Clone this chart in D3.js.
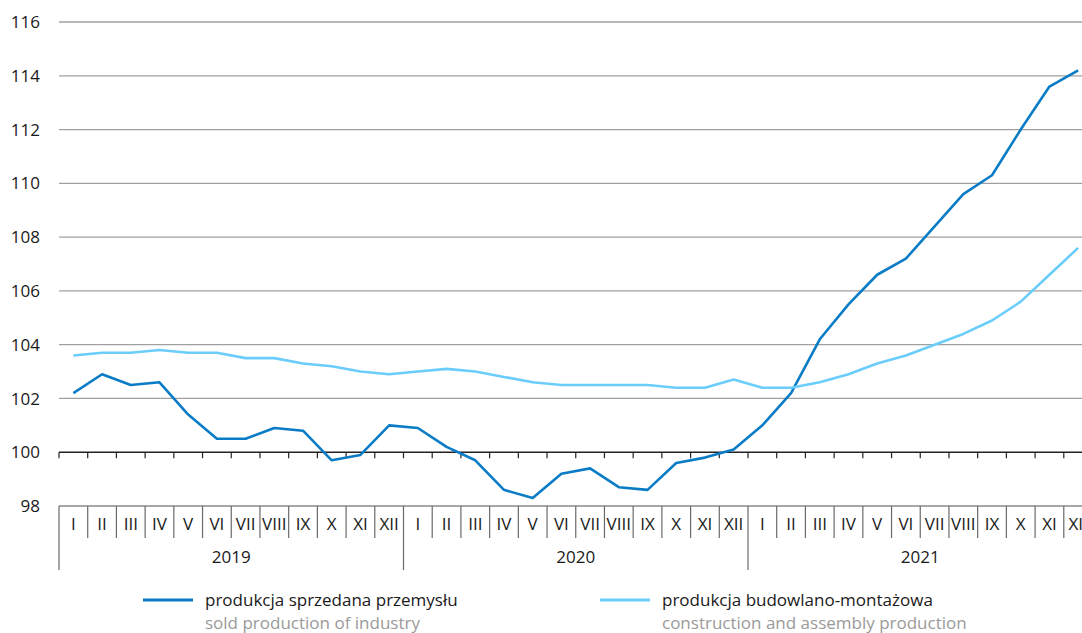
<!DOCTYPE html>
<html><head><meta charset="utf-8">
<script src="https://cdn.jsdelivr.net/npm/d3@7"></script>
<style>
body{margin:0;background:#fff;}
svg{display:block;font-family:"Open Sans","Noto Sans",sans-serif;}
</style></head>
<body>
<svg id="chart" width="1082" height="633"></svg>
<script>
const years = ["2019","2020","2021"];
const months = ["I","II","III","IV","V","VI","VII","VIII","IX","X","XI","XII"];
const yTicks = [98,100,102,104,106,108,110,112,114,116];
const industry = [102.2,102.9,102.5,102.6,101.4,100.5,100.5,100.9,100.8,99.7,99.9,101.0,
                  100.9,100.2,99.7,98.6,98.3,99.2,99.4,98.7,98.6,99.6,99.8,100.1,
                  101.0,102.2,104.2,105.5,106.6,107.2,108.4,109.6,110.3,112.0,113.6,114.2];
const construction = [103.6,103.7,103.7,103.8,103.7,103.7,103.5,103.5,103.3,103.2,103.0,102.9,
                      103.0,103.1,103.0,102.8,102.6,102.5,102.5,102.5,102.5,102.4,102.4,102.7,
                      102.4,102.4,102.6,102.9,103.3,103.6,104.0,104.4,104.9,105.6,106.6,107.6];
const seriesNames = [["produkcja sprzedana przemysłu","sold production of industry"],
                     ["produkcja budowlano-montażowa","construction and assembly production"]];
const colors = ["#0a7cc6","#6acdfb"];

const svg = d3.select("#chart");
const W = 1082;
const periods = [];
years.forEach(y => months.forEach(m => periods.push(y + "-" + m)));

const x = d3.scaleBand().domain(periods).range([59, 1092.5]).padding(0);
const y = d3.scaleLinear().domain([98,116]).range([506,22]);

// gridlines
svg.append("g").selectAll("line").data(yTicks.filter(t => t !== 100)).join("line")
  .attr("x1", 59).attr("x2", W).attr("y1", d => y(d)).attr("y2", d => y(d))
  .attr("stroke", d => d === 98 ? "#8a8a8a" : "#a0a0a0").attr("stroke-width", 1.3);

// y labels
svg.append("g").selectAll("text").data(yTicks).join("text")
  .attr("x", 40).attr("y", d => y(d)).attr("dy", "0.36em")
  .attr("text-anchor", "end").attr("font-size", 17).attr("fill", "#1a1a1a")
  .text(d => d);

// axis at 100
const axis = svg.append("g").attr("transform", `translate(0,${y(100)})`);
axis.append("line").attr("x1", 59).attr("x2", W).attr("stroke", "#222").attr("stroke-width", 1.5);
axis.selectAll("line.t").data(periods).join("line").attr("class","t")
  .attr("x1", d => x(d)).attr("x2", d => x(d)).attr("y1", 0).attr("y2", 6)
  .attr("stroke", "#222").attr("stroke-width", 1.2);

// category box: month separators
svg.append("g").selectAll("line").data(periods).join("line")
  .attr("x1", d => x(d)).attr("x2", d => x(d))
  .attr("y1", y(98)).attr("y2", (d,i) => i % 12 === 0 ? 570 : 538)
  .attr("stroke", "#6a6a6a").attr("stroke-width", 1.2);

svg.append("g").selectAll("text").data(periods).join("text")
  .attr("x", d => x(d) + x.bandwidth()/2).attr("y", 530)
  .attr("text-anchor", "middle").attr("font-size", 17).attr("fill", "#1a1a1a")
  .text(d => d.split("-")[1]);

// years
svg.append("g").selectAll("text").data(years).join("text")
  .attr("x", d => (x(d + "-I") + x(d + "-XII") + x.bandwidth())/2).attr("y", 563)
  .attr("text-anchor", "middle").attr("font-size", 17).attr("fill", "#1a1a1a")
  .text(d => d);

// lines
const line = d3.line().x((d,i) => x(periods[i]) + x.bandwidth()/2).y(d => y(d));
[industry, construction].forEach((s, k) => {
  svg.append("path").datum(s).attr("d", line)
    .attr("fill", "none").attr("stroke", colors[k]).attr("stroke-width", 2.6)
    .attr("stroke-linejoin", "round");
});

// legend
const legX = [143, 600];
seriesNames.forEach((n, k) => {
  const g = svg.append("g").attr("transform", `translate(${legX[k]},0)`);
  g.append("line").attr("x1", 0).attr("x2", 50).attr("y1", 600).attr("y2", 600)
    .attr("stroke", colors[k]).attr("stroke-width", 2.8);
  g.append("text").attr("x", 62).attr("y", 606).attr("font-size", 17).attr("fill", "#1a1a1a").text(n[0]);
  g.append("text").attr("x", 62).attr("y", 629).attr("font-size", 17).attr("fill", "#9a9a9a").text(n[1]);
});
</script>
</body></html>
